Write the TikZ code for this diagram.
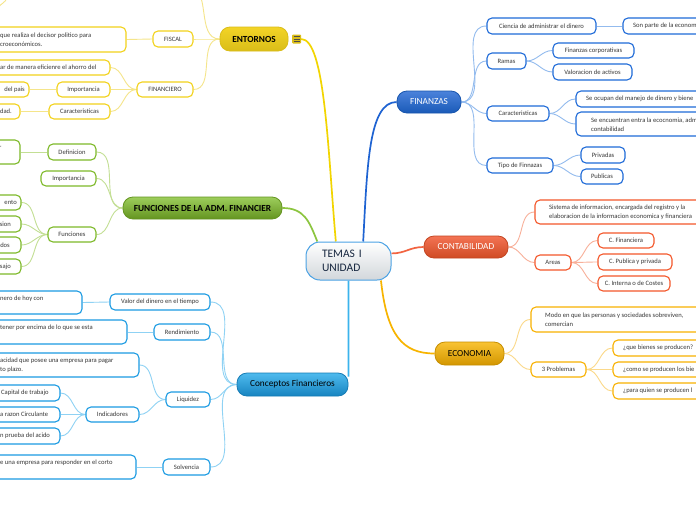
\documentclass[tikz,border=0pt]{standalone}
\usepackage{fontspec}
\setmainfont{Carlito}
\usetikzlibrary{backgrounds}
\definecolor{txt}{HTML}{383838}
\definecolor{navy}{HTML}{16263F}
\definecolor{cY}{HTML}{F2D21B}\definecolor{lnY}{HTML}{F5E58A}\definecolor{mY}{HTML}{F2D500}
\definecolor{cG}{HTML}{7DB928}\definecolor{lnG}{HTML}{C3DF94}\definecolor{mG}{HTML}{8CC53F}
\definecolor{cB}{HTML}{1E6AD8}\definecolor{lnB}{HTML}{93BBEE}\definecolor{mB}{HTML}{1E63D2}
\definecolor{cR}{HTML}{F4572A}\definecolor{lnR}{HTML}{F8B09A}\definecolor{mR}{HTML}{F26441}
\definecolor{cO}{HTML}{F8B100}\definecolor{lnO}{HTML}{FBD98A}\definecolor{mO}{HTML}{F7B400}
\definecolor{cL}{HTML}{1B9BE2}\definecolor{lnL}{HTML}{8FD2F4}\definecolor{mL}{HTML}{3BB3EC}
\definecolor{cenbd}{HTML}{4BA2E4}\definecolor{cengr}{HTML}{D2D7DB}
\newcommand\subf{\fontsize{6.6}{8.8}\selectfont}
\newcommand\mainf{\fontsize{9.3}{11}\selectfont}
\newcommand\bx[7]{\node[#6, minimum width={#4-(#2)}, minimum height={#5-(#3)}] (#1) at ({(#2+#4)/2},{-(#3+#5)/2}) {#7};}
\tikzset{
  sb/.style={draw=#1, line width=1.1pt, fill=white, rounded corners=5pt, text=txt, font=\subf, inner sep=0pt},
  tx/.style={text=txt, font=\subf, inner sep=0pt, align=left},
  ln/.style={draw=#1, line width=0.9pt},
  mn/.style={draw=#1, line width=1.7pt},
  mainnd/.style n args={4}{draw=#1, line width=0.8pt, top color=#2, bottom color=#3, rounded corners=10pt, font=\mainf, text=#4, inner sep=0pt},
}
\begin{document}
\begin{tikzpicture}[x=1pt,y=1pt]
\useasboundingbox (0,-520) rectangle (696,0);
\clip (0,-520) rectangle (696,0);
% central
\bx{C}{306}{242}{391}{280}{draw=cenbd, line width=1pt, top color=white, bottom color=cengr, rounded corners=14pt, align=left, text width=53pt, font=\fontsize{11.5}{14}\selectfont, text=navy, inner sep=0pt}{TEMAS I\\UNIDAD}
% ENTORNOS
\bx{ENT}{220}{27}{288}{51}{mainnd={cY!90!black}{cY!95!white}{cY!90!black}{black}, font=\mainf\bfseries}{ENTORNOS}
\node[fill=cY!90!black, rounded corners=1pt, minimum size=9pt, inner sep=0pt] (ico) at (296.5,-39) {};
\foreach \yy in {-36.5,-39,-41.5}{\draw[black!70, line width=0.6pt] (293.5,\yy) -- (299.5,\yy);}
\bx{FIS}{153}{31}{193}{47}{sb=cY}{FISCAL}
\bx{FISd}{-60}{27}{126}{52}{sb=cY}{}
\node[tx, anchor=west] (FISt) at (0,-39.5) {que realiza el decisor politico para\\croeconómicos.};
\bx{FNC}{137}{82}{193}{97}{sb=cY}{FINANCIERO}
\bx{FNCd}{-80}{60}{110}{75}{sb=cY}{}
\node[tx, anchor=west] (FNCt) at (0,-67.5) {ar de manera eficienre el ahorro del};
\bx{IMP}{57}{82}{110}{97}{sb=cY}{Importancia}
\bx{IMPd}{-40}{82}{29}{97}{sb=cY}{}
\node[tx, anchor=east] (IMPt) at (25,-89.5) {del pais};
\bx{CAR}{49}{104}{110}{119}{sb=cY}{Caracteristicas}
\bx{CARd}{-40}{104}{20}{119}{sb=cY}{}
\node[tx, anchor=east] (CARt) at (12,-111) {dad.};
\coordinate (offA) at (188,14);
\coordinate (offB1) at (7,2);
\coordinate (offB2) at (-2,-8);
% FUNCIONES
\bx{FUN}{123}{197}{282}{219}{mainnd={cG!80!black}{mG!85!white}{cG!80!black}{black}, font=\mainf\bfseries}{FUNCIONES DE LA ADM. FINANCIER}
\bx{DEF}{48}{144}{96}{160}{sb=cG}{Definicion}
\bx{DEFd}{-40}{140}{20}{164}{sb=cG}{}
\node[tx, anchor=west] (DEFt) at (-1,-147.5) {r};
\bx{IMG}{41}{171}{96}{186}{sb=cG}{Importancia}
\bx{FNS}{48}{227}{96}{242}{sb=cG}{Funciones}
\bx{F1}{-40}{195}{21}{210}{sb=cG}{}
\node[tx, anchor=east] (F1t) at (17,-202.5) {ento};
\bx{F2}{-40}{216}{21}{232}{sb=cG}{}
\node[tx, anchor=east] (F2t) at (11,-224) {sion};
\bx{F3}{-40}{237}{21}{253}{sb=cG}{}
\node[tx, anchor=east] (F3t) at (10,-245) {dos};
\bx{F4}{-40}{259}{21}{274}{sb=cG}{}
\node[tx, anchor=east] (F4t) at (11,-266.5) {sajo};
% Conceptos Financieros
\bx{CF}{237}{373}{348}{396}{mainnd={cL!80!black}{mL!90!white}{cL!85!black}{black}}{Conceptos Financieros}
\bx{VD}{110}{294}{210}{310}{sb=cL}{Valor del dinero en el tiempo}
\bx{VDd}{-60}{291}{82}{314}{sb=cL}{}
\node[tx, anchor=west] (VDt) at (0,-298.5) {nero de hoy con};
\bx{REN}{154}{324}{210}{340}{sb=cL}{Rendimiento}
\bx{RENd}{-60}{320}{127}{344}{sb=cL}{}
\node[tx, anchor=west] (RENt) at (0,-328) {tener por encima de lo que se esta};
\bx{LIQ}{166}{392}{210}{407}{sb=cL}{Liquidez}
\bx{LIQd}{-60}{353}{139}{377}{sb=cL}{}
\node[tx, anchor=west] (LIQt) at (0,-365.5) {acidad que posee una empresa para pagar\\to plazo.};
\bx{IND}{86}{407}{139}{422}{sb=cL}{Indicadores}
\bx{I1}{-40}{385}{60}{401}{sb=cL}{}
\node[tx, anchor=west] (I1t) at (1,-393) {Capital de trabajo};
\bx{I2}{-40}{407}{60}{422}{sb=cL}{}
\node[tx, anchor=west] (I2t) at (0,-414.5) {a razon Circulante};
\bx{I3}{-40}{428}{60}{444}{sb=cL}{}
\node[tx, anchor=west] (I3t) at (0,-436) {n prueba del acido};
\bx{SOL}{163}{459}{210}{475}{sb=cL}{Solvencia}
\bx{SOLd}{-60}{455}{136}{479}{sb=cL}{}
\node[tx, anchor=west] (SOLt) at (0,-463) {e una empresa para responder en el corto};
% FINANZAS
\bx{FIN}{397}{91}{461}{113}{mainnd={cB!80!black}{mB!80!white}{cB!85!black}{white}}{FINANZAS}
\bx{CIE}{487}{18}{596}{34}{sb=cB}{Ciencia de administrar el dinero}
\bx{SON}{623}{18}{760}{34}{sb=cB}{}
\node[tx, anchor=west] (SONt) at (633,-26) {Son parte de la econom};
\bx{RAM}{487}{53}{526}{69}{sb=cB}{Ramas}
\bx{FCO}{553}{43}{634}{58}{sb=cB}{Finanzas corporativas}
\bx{VAL}{553}{64}{632}{80}{sb=cB}{Valoracion de activos}
\bx{CRF}{487}{106}{549}{121}{sb=cB}{Caracteristicas}
\bx{OCU}{576}{91}{760}{107}{sb=cB}{}
\node[tx, anchor=west] (OCUt) at (586,-99) {Se ocupan del manejo de dinero y biene};
\bx{ENC}{576}{112}{760}{136}{sb=cB}{}
\node[tx, anchor=west] (ENCt) at (591,-124.5) {Se encuentran entra la ecocnomia, adm\\contabilidad};
\bx{TIP}{487}{158}{553}{173}{sb=cB}{Tipo de Finnazas}
\bx{PRI}{581}{147}{625}{163}{sb=cB}{Privadas}
\bx{PUB}{581}{169}{623}{184}{sb=cB}{Publicas}
% CONTABILIDAD
\bx{CON}{424}{236}{508}{258}{mainnd={cR!80!black}{mR!90!white}{cR!85!black}{white}}{CONTABILIDAD}
\bx{SIS}{535}{200}{760}{224}{sb=cR}{}
\node[tx, anchor=west] (SISt) at (549,-212.5) {Sistema de informacion, encargada del registro y la\\elaboracion de la informacion economica y financiera};
\bx{ARE}{535}{255}{571}{270}{sb=cR}{Areas}
\bx{CFI}{598}{233}{654}{248}{sb=cR}{C. Financiera}
\bx{CPU}{598}{254}{672}{270}{sb=cR}{C. Publica y privada}
\bx{CIN}{598}{276}{670}{291}{sb=cR}{C. Interna o de Costes}
% ECONOMIA
\bx{ECO}{435}{342}{504}{365}{mainnd={cO!80!black}{mO!80!white}{cO!85!black}{black}}{ECONOMIA}
\bx{MOD}{531}{307}{760}{332}{sb=cO}{}
\node[tx, anchor=west] (MODt) at (545,-320) {Modo en que las personas y sociedades sobreviven,\\comercian};
\bx{PRO}{531}{362}{586}{377}{sb=cO}{3 Problemas}
\bx{Q1}{613}{340}{760}{356}{sb=cO}{}
\node[tx, anchor=west] (Q1t) at (623,-348) {¿que bienes se producen?};
\bx{Q2}{613}{362}{760}{377}{sb=cO}{}
\node[tx, anchor=west] (Q2t) at (623,-369.5) {¿como se producen los bie};
\bx{Q3}{613}{383}{760}{399}{sb=cO}{}
\node[tx, anchor=west] (Q3t) at (623,-391) {¿para quien se producen l};
% connectors (behind nodes)
\begin{scope}[on background layer]
\fill[white] (0,-520) rectangle (696,0);
% main branches
\draw[mn=mY] (ico.east) .. controls +(24,0) and +(-8,90) .. (C.123);
\draw[mn=mB] (C.53) .. controls +(4,75) and +(-28,0) .. (FIN.west);
\draw[mn=mG] (FUN.east) .. controls +(22,0) and +(-8,20) .. (C.148);
\draw[mn=mR] (C.10) .. controls +(14,0) and +(-14,0) .. (CON.west);
\draw[mn=mO] (C.-31) .. controls +(6,-55) and +(-32,0) .. (ECO.west);
\draw[mn=mL] (C.south) -- (CF.8);
% ENTORNOS
\foreach \n in {FIS,FNC,offA}{\draw[ln=lnY] (ENT.west) to[out=180,in=0] (\n.east);}
\draw[ln=lnY] (offB1) to[out=250,in=60] (offB2);
\draw[ln=lnY] (FIS.west) -- (FISd.east);
\foreach \n in {FNCd,IMP,CAR}{\draw[ln=lnY] (FNC.west) to[out=180,in=0] (\n.east);}
\draw[ln=lnY] (IMP.west) -- (IMPd.east);
\draw[ln=lnY] (CAR.west) -- (CARd.east);
% FUNCIONES
\foreach \n in {DEF,IMG,FNS}{\draw[ln=lnG] (FUN.west) to[out=180,in=0] (\n.east);}
\draw[ln=lnG] (DEF.west) -- (DEFd.east);
\foreach \n in {F1,F2,F3,F4}{\draw[ln=lnG] (FNS.west) to[out=180,in=0] (\n.east);}
% Conceptos
\foreach \n in {VD,REN,LIQ,SOL}{\draw[ln=lnL] (CF.west) to[out=180,in=0] (\n.east);}
\draw[ln=lnL] (VD.west) -- (VDd.east);
\draw[ln=lnL] (REN.west) -- (RENd.east);
\foreach \n in {LIQd,IND}{\draw[ln=lnL] (LIQ.west) to[out=180,in=0] (\n.east);}
\foreach \n in {I1,I2,I3}{\draw[ln=lnL] (IND.west) to[out=180,in=0] (\n.east);}
\draw[ln=lnL] (SOL.west) -- (SOLd.east);
% FINANZAS
\foreach \n in {CIE,RAM,CRF,TIP}{\draw[ln=lnB] (FIN.east) to[out=0,in=180] (\n.west);}
\draw[ln=lnB] (CIE.east) -- (SON.west);
\foreach \n in {FCO,VAL}{\draw[ln=lnB] (RAM.east) to[out=0,in=180] (\n.west);}
\foreach \n in {OCU,ENC}{\draw[ln=lnB] (CRF.east) to[out=0,in=180] (\n.west);}
\foreach \n in {PRI,PUB}{\draw[ln=lnB] (TIP.east) to[out=0,in=180] (\n.west);}
% CONTABILIDAD
\foreach \n in {SIS,ARE}{\draw[ln=lnR] (CON.east) to[out=0,in=180] (\n.west);}
\foreach \n in {CFI,CPU,CIN}{\draw[ln=lnR] (ARE.east) to[out=0,in=180] (\n.west);}
% ECONOMIA
\foreach \n in {MOD,PRO}{\draw[ln=lnO] (ECO.east) to[out=0,in=180] (\n.west);}
\foreach \n in {Q1,Q2,Q3}{\draw[ln=lnO] (PRO.east) to[out=0,in=180] (\n.west);}
\end{scope}
\end{tikzpicture}
\end{document}
